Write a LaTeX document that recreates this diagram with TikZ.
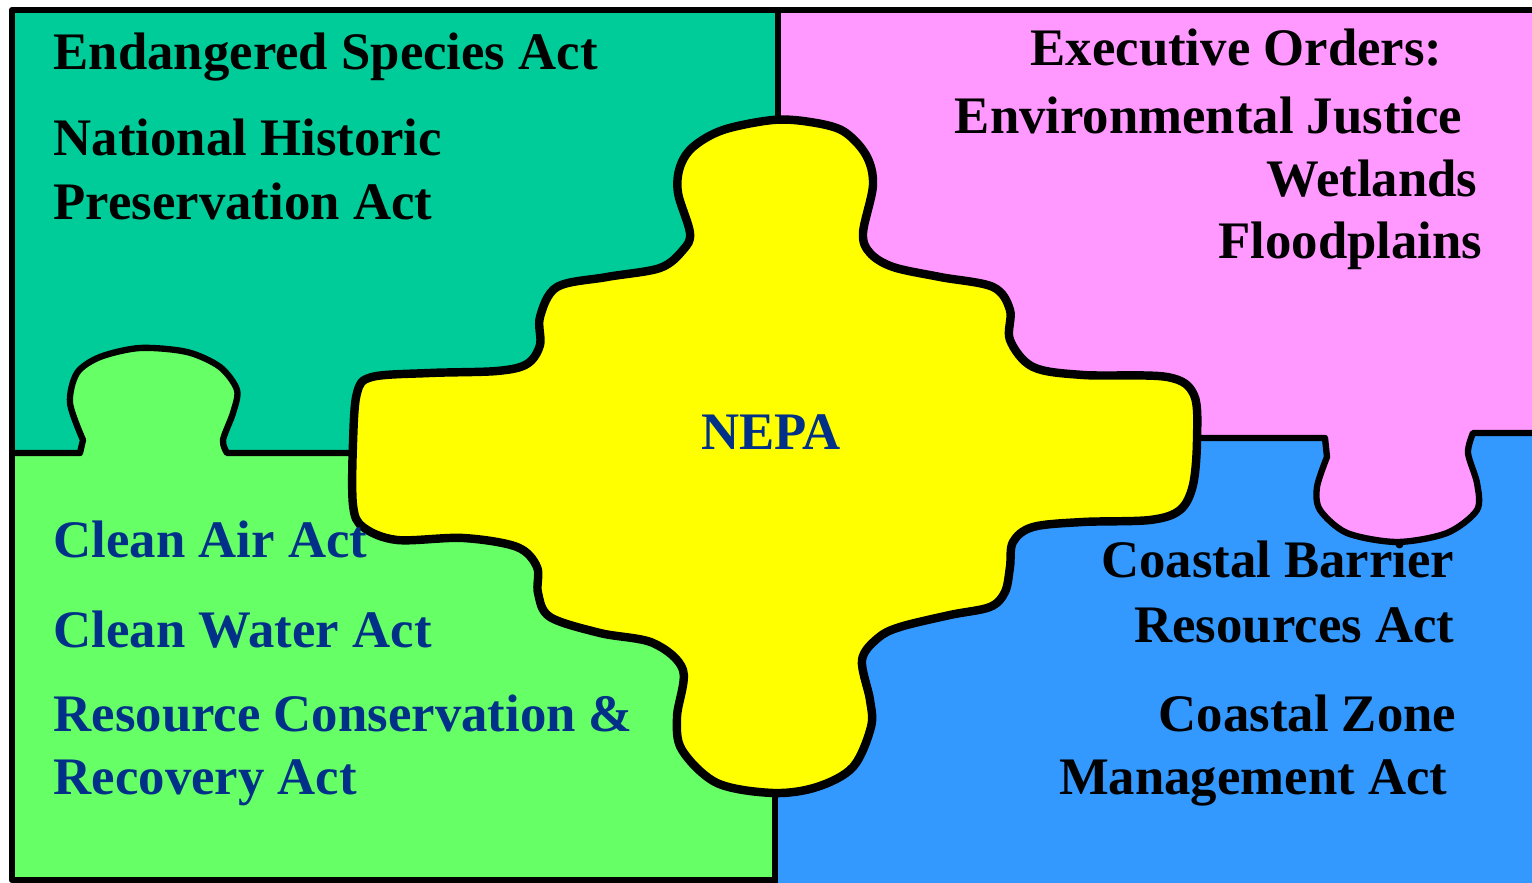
\documentclass[tikz,border=0pt]{standalone}
\usepackage{fontspec}
\setmainfont{Liberation Serif}
\usepackage{tikz}
\definecolor{esagreen}{RGB}{0,204,153}
\definecolor{eopink}{RGB}{255,153,255}
\definecolor{cwagreen}{RGB}{102,255,102}
\definecolor{czblue}{RGB}{51,153,255}
\definecolor{nepayellow}{RGB}{255,255,0}
\definecolor{actblue}{RGB}{0,48,135}

\begin{document}
\begin{tikzpicture}[x=0.01cm,y=-0.01cm,
	law/.style={font=\fontsize{15}{18}\selectfont\bfseries,inner sep=0pt},
	lawl/.style={law,anchor=base west},
	lawr/.style={law,anchor=base east},
	border/.style={line width=1.8pt,line join=round},
	piece/.style={line width=2.4pt,line join=round}]
	\useasboundingbox (0,0) rectangle (1532,883);
	\fill[esagreen] (12,10) rectangle (778,453);
	\fill[eopink] (778,10) rectangle (1532,436);
	\fill[cwagreen] (12,453) rectangle (776,880);
	\fill[czblue] (776,436) rectangle (1532,883);
	\fill[cwagreen] plot[smooth] coordinates {(80,455) (83,440) (70,403) (77,373) (100,357) (140,348) (187,352) (220,367) (237,390) (233,413) (223,440) (227,455)} -- cycle;
	\fill[eopink] plot[smooth] coordinates {(1325,434) (1327,457) (1317,487) (1320,510) (1347,533) (1397,542) (1447,533) (1477,510) (1477,483) (1468,453) (1473,433)} -- cycle;
	\draw[border] (1532,10) -- (12,10) -- (12,880) -- (776,880);
	\draw[border] (778,10) -- (778,130);
	\draw[border] (775,780) -- (775,883);
	\draw[border] (12,453) -- (80,453) -- plot[smooth] coordinates {(83,440) (70,403) (77,373) (100,357) (140,348) (187,352) (220,367) (237,390) (233,413) (223,440) (227,453)} -- (360,453);
	\draw[border] (1190,438) -- (1325,438) -- plot[smooth] coordinates {(1327,457) (1317,487) (1320,510) (1347,533) (1397,542) (1447,533) (1477,510) (1477,483) (1468,453) (1473,433)} -- (1532,433);
	\filldraw[piece,fill=nepayellow] plot[smooth cycle,tension=0.55] coordinates {(773,120) (810,122) (843,131) (866,155) (873,185) (863,233) (870,253) (893,267) (940,277) (993,287) (1010,310) (1010,340) (1033,367) (1083,375) (1167,377) (1194,395) (1197,440) (1193,485) (1180,510) (1150,520) (1083,522) (1033,527) (1013,542) (1010,567) (1005,592) (990,607) (950,615) (900,627) (878,638) (862,660) (870,700) (871,727) (853,767) (817,787) (773,793) (717,783) (682,750) (677,717) (683,670) (653,643) (600,633) (550,617) (538,593) (537,567) (517,547) (463,538) (397,540) (363,527) (353,505) (353,443) (357,393) (372,377) (430,373) (497,371) (527,364) (540,345) (540,317) (557,287) (607,277) (660,268) (683,250) (690,233) (678,193) (680,167) (693,147) (723,130)};
	\node[law,text=actblue] (nepa) at (771,432) {NEPA};
	\node[lawl] (esa) at (53,70) {Endangered Species Act};
	\node[lawl] (nhpa1) at (53,156) {National Historic};
	\node[lawl] (nhpa2) at (53,220) {Preservation Act};
	\node[lawr] (eo) at (1443,66) {Executive Orders:};
	\node[lawr] (ej) at (1463,134) {Environmental Justice};
	\node[lawr] (wet) at (1478,197) {Wetlands};
	\node[lawr] (flood) at (1483,259) {Floodplains};
	\node[lawl,text=actblue] (caa) at (53,558) {Clean Air Act};
	\node[lawl,text=actblue] (cwa) at (53,648) {Clean Water Act};
	\node[lawl,text=actblue] (rcra1) at (53,732) {Resource Conservation \&};
	\node[lawl,text=actblue] (rcra2) at (53,795) {Recovery Act};
	\node[lawr] (cbra1) at (1455,578) {Coastal Barrier};
	\node[lawr] (cbra2) at (1455,643) {Resources Act};
	\node[lawr] (czma1) at (1457,732) {Coastal Zone};
	\node[lawr] (czma2) at (1448,795) {Management Act};
\end{tikzpicture}
\end{document}
